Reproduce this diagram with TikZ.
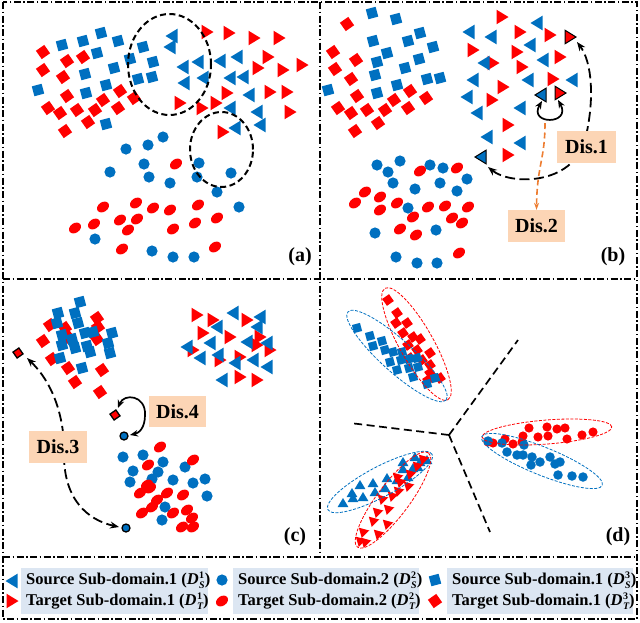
\documentclass[tikz,border=0pt]{standalone}
\usepackage{fontspec}
\setmainfont{Liberation Serif}
\usetikzlibrary{arrows.meta}
\definecolor{myblue}{RGB}{0,112,192}
\definecolor{myred}{RGB}{255,0,0}
\definecolor{peach}{RGB}{252,213,181}
\definecolor{legfill}{RGB}{220,230,242}
\definecolor{myorange}{RGB}{237,125,49}
\newcommand\Dsym[2]{\textit{D}\kern0.5pt\rlap{\raisebox{6pt}{\fontsize{10}{10}\selectfont #2}}\raisebox{-4pt}{\fontsize{10}{10}\selectfont\itshape #1}}
\tikzset{
  pics/bl/.style={code={\fill[myblue] (-6.5,0) -- (5.5,7.3) -- (5.5,-7.3) -- cycle;}},
  pics/rr/.style={code={\fill[myred] (6.5,0) -- (-5.5,7.3) -- (-5.5,-7.3) -- cycle;}},
  pics/blo/.style={code={\filldraw[fill=myblue,draw=black,line width=1pt] (-6,0) -- (5,6.8) -- (5,-6.8) -- cycle;}},
  pics/rro/.style={code={\filldraw[fill=myred,draw=black,line width=1pt] (6,0) -- (-5,6.8) -- (-5,-6.8) -- cycle;}},
  pics/bup/.style={code={\fill[myblue] (0,5.5) -- (-6,-4.5) -- (6,-4.5) -- cycle;}},
  pics/rdn/.style={code={\fill[myred,rotate=-15] (0,-5.5) -- (-6,4.5) -- (6,4.5) -- cycle;}},
  pics/bsq/.style={code={\fill[myblue,rotate=15] (-5.1,-5.1) rectangle (5.1,5.1);}},
  pics/rsq/.style={code={\fill[myred,rotate=35] (-5.1,-5.1) rectangle (5.1,5.1);}},
  pics/rsqo/.style={code={\filldraw[fill=myred,draw=black,line width=1.3pt,rotate=35] (-3.6,-3.6) rectangle (3.6,3.6);}},
  pics/bc/.style={code={\fill[myblue] (0,0) circle (5.6);}},
  pics/bco/.style={code={\filldraw[fill=myblue,draw=black,line width=1.3pt] (0,0) circle (4);}},
  pics/rc/.style={code={\fill[myred,rotate=35] (0,0) ellipse [x radius=6.5,y radius=4.8];}},
  pics/rcd/.style={code={\fill[myred] (0,0) circle (5.4);}},
  frame/.style={line width=1.3pt,dash pattern=on 7pt off 2.5pt on 1.5pt off 2.5pt},
  dasharr/.style={line width=1.8pt,dash pattern=on 10pt off 4.5pt,{Stealth[length=9pt,width=7pt]}-{Stealth[length=9pt,width=7pt]}},
  solarr/.style={line width=1.7pt,{Stealth[length=8pt,width=6.5pt]}-{Stealth[length=8pt,width=6.5pt]}},
  disbox/.style={fill=peach,inner sep=0pt,font=\fontsize{20}{22}\selectfont\bfseries},
  plabel/.style={font=\fontsize{20}{22}\selectfont\bfseries},
  legtext/.style={anchor=west,inner sep=0pt,align=left,font=\fontsize{16.5}{21}\selectfont\bfseries},
  legbox/.style={fill=legfill,inner sep=0pt},
  bigell/.style={line width=2pt,dash pattern=on 6pt off 3.5pt},
  redell/.style={draw=myred,line width=0.8pt,dash pattern=on 3pt off 1.5pt},
  blueell/.style={draw=myblue,line width=0.8pt,dash pattern=on 3pt off 1.5pt},
  sep/.style={line width=1.7pt,dash pattern=on 8pt off 4.5pt}
}
\begin{document}
\begin{tikzpicture}[x=1pt,y=1pt]
\useasboundingbox (0,0) rectangle (640,-622);
% ---------- frames
\draw[frame] (3,-2) rectangle (637,-619);
\draw[frame] (320,-2) -- (320,-557);
\draw[frame] (3,-279) -- (637,-279);
\draw[frame] (3,-557) -- (637,-557);

% ================= panel (a)
\foreach \x/\y in {43/52,67/61,83/57,43/70,63/77,67/96,48/108,60/113,77/110,88/122,95/110,103/100,118/108,120/91,134/98,65/131}
  \pic at (\x,-\y) {rsq};
\foreach \x/\y in {62/45,83/41,101/33,118/41,97/53,114/68,85/74,143/47,130/59,153/62,138/79,152/77,106/85,86/93,38/90,106/124}
  \pic at (\x,-\y) {bsq};
\foreach \x/\y in {207/32,229/33,254/38,279/38,268/57,302/65,258/68,283/70,227/93,270/92,287/92,180/103,202/108,216/103,290/112,223/132}
  \pic at (\x,-\y) {rr};
\foreach \x/\y in {172/36,170/47,183/67,198/62,184/83,203/78,220/61,237/57,230/78,243/77,249/95,230/108,257/112,260/125,235/128}
  \pic at (\x,-\y) {bl};
\foreach \x/\y in {126/149,148/145,163/137,144/164,110/172,149/177,170/183,199/163,197/177,231/173,217/192,239/207,95/239,152/251,173/257,194/257}
  \pic at (\x,-\y) {bc};
\foreach \x/\y in {176/164,103/207,136/203,153/208,170/210,198/205,217/218,75/228,94/224,120/220,137/219,128/230,173/229,195/223,122/249,215/247}
  \pic at (\x,-\y) {rc};
\draw[bigell] (169.5,-64.5) ellipse [x radius=41.5,y radius=50.5];
\draw[bigell] (221.5,-149.5) ellipse [x radius=31.5,y radius=37.5];
\node[plabel] (la) at (300,-257) {(a)};

% ================= panel (b)
\foreach \x/\y in {347/24,333/52,356/60,335/69,351/79,357/96,338/108,351/113,367/110,378/123,385/110,394/100,408/108,410/91,426/98,355/131}
  \pic at (\x,-\y) {rsq};
\foreach \x/\y in {372/13,396/19,373/41,408/41,420/33,433/47,387/53,377/62,419/59,405/68,375/75,427/79,440/78,397/85,328/90,377/93}
  \pic at (\x,-\y) {bsq};
\foreach \x/\y in {502/17,520/32,550/35,473/50,517/52,560/57,493/63,522/67,503/87,553/79,492/100,508/125,508/155}
  \pic at (\x,-\y) {rr};
\foreach \x/\y in {469/32,491/37,537/23,530/45,484/63,543/60,473/80,528/80,572/80,467/97,477/113,520/108,487/137,520/143}
  \pic at (\x,-\y) {bl};
\foreach \x/\y in {377/165,400/161,388/172,430/165,443/168,393/183,415/189,440/183,467/179,457/191,408/208,375/233,436/230,396/257,417/263,437/263}
  \pic at (\x,-\y) {bc};
\foreach \x/\y in {420/171,457/168,365/192,380/197,355/203,397/203,380/210,428/207,445/206,468/207,413/217,452/218,462/223,400/229,416/235,459/253}
  \pic at (\x,-\y) {rc};
\pic at (541,-95) {blo};
\pic at (481,-157) {blo};
\pic at (570,-37) {rro};
\pic at (560,-93) {rro};
\coordinate (bA) at (488,-167);
\coordinate (rA) at (577,-42);
\coordinate (bB) at (542,-101);
\coordinate (rB) at (558,-100);
\draw[dasharr] (bA) .. controls (510,-185) and (572,-186) .. (585,-140) .. controls (595,-100) and (592,-62) .. (rA);
\draw[solarr] (bB) .. controls (528,-125) and (572,-125) .. (rB);
\node[disbox,minimum width=59pt,minimum height=32pt] (dis1) at (586.5,-147) {Dis.1};
\node[disbox,minimum width=57pt,minimum height=32pt] (dis2) at (536.5,-226) {Dis.2};
\coordinate (oS) at (545,-123);
\draw[myorange,line width=1.6pt,dash pattern=on 6pt off 3.5pt,-{Stealth[length=7pt,width=5pt]}] (oS) .. controls (545,-160) and (537,-165) .. (dis2.north);
\node[plabel] (lb) at (613,-257) {(b)};

% ================= panel (c)
\foreach \x/\y in {50/325,43/341,65/328,97/318,98/327,68/337,97/339,52/359,68/368,75/382,102/370,100/392}
  \pic at (\x,-\y) {rsq};
\foreach \x/\y in {58/313,80/302,75/313,57/323,78/323,62/335,85/333,72/339,93/332,112/333,62/345,75/348,87/346,90/352,108/343,110/353,60/358,82/368}
  \pic at (\x,-\y) {bsq};
\foreach \x/\y in {197/315,213/320,247/320,203/333,230/337,260/337,193/350,257/345,270/350,220/360,240/357,240/377,257/380}
  \pic at (\x,-\y) {rr};
\foreach \x/\y in {233/313,260/317,217/327,257/327,247/342,187/347,210/343,267/343,200/358,218/355,235/363,253/360,267/367,222/380}
  \pic at (\x,-\y) {bl};
\foreach \x/\y in {123/457,143/455,163/462,185/467,133/471,152/479,173/480,193/483,205/479,130/482,165/507,162/520,207/496,158/472}
  \pic at (\x,-\y) {bc};
\foreach \x/\y in {160/447,148/465,193/460,140/493,150/488,167/493,183/495,157/500,152/507,142/513,173/513,187/510,192/518,182/527,193/527,147/485}
  \pic at (\x,-\y) {rc};
\pic at (18,-353) {rsqo};
\pic at (115,-415) {rsqo};
\pic at (124,-436) {bco};
\pic at (126,-528) {bco};
\coordinate (cA) at (27,-358);
\coordinate (cB) at (119,-527);
\coordinate (cC) at (118,-408);
\coordinate (cD) at (130,-435);
\draw[dasharr] (cA) .. controls (58,-388) and (65,-428) .. (64,-455) .. controls (64,-500) and (88,-520) .. (cB);
\draw[solarr] (cC) .. controls (124,-393) and (146,-395) .. (145,-415) .. controls (145,-428) and (139,-433) .. (cD);
\node[disbox,minimum width=58pt,minimum height=32pt] (dis3) at (58,-447) {Dis.3};
\node[disbox,minimum width=57pt,minimum height=31pt] (dis4) at (177.5,-411.5) {Dis.4};
\node[plabel] (lc) at (295,-537) {(c)};

% ================= panel (d)
\coordinate (ctr) at (449,-435);
\coordinate (e1) at (350,-423);
\coordinate (e2) at (518,-340);
\coordinate (e3) at (490,-532);
\draw[sep] (ctr) -- (e1);
\draw[sep] (ctr) -- (e2);
\draw[sep] (ctr) -- (e3);
\foreach \x/\y in {388/300,397/313,396/323,407/323,403/333,413/337,420/339,408/345,417/350,430/353,410/358,422/360,430/365,430/373,428/380,440/378}
  \pic[scale=0.82] at (\x,-\y) {rsq};
\foreach \x/\y in {357/328,370/336,382/341,373/346,385/350,393/352,402/352,390/362,401/360,409/359,397/370,409/368,418/367,413/377,427/384,435/378,417/358}
  \pic[scale=0.82] at (\x,-\y) {bsq};
\foreach \x/\y in {488/442,505/439,513/444,523/436,529/428,538/437,547/427,548/436,557/429,565/428,567/439,582/435,593/432,522/442,493/443}
  \pic[scale=0.85] at (\x,-\y) {rcd};
\foreach \x/\y in {488/441,502/443,524/445,507/452,517/455,523/455,532/457,540/462,531/465,550/457,560/462,555/464,558/475,572/476,583/477}
  \pic[scale=0.85] at (\x,-\y) {bc};
\foreach \x/\y in {343/503,353/498,363/497,352/493,360/485,373/483,375/492,385/488,387/478,397/480,403/469,413/468,420/462,427/460,403/462,415/457,408/477,418/467}
  \pic[scale=0.9] at (\x,-\y) {bup};
\foreach \x/\y in {423/460,417/467,410/475,400/483,408/487,398/492,392/497,388/510,382/500,377/513,387/525,373/522,363/533,378/535,365/543,360/542,397/478}
  \pic[scale=0.9] at (\x,-\y) {rdn};
\draw[redell,rotate around={-60.6:(416.5,-344)}] (416.5,-344) ellipse [x radius=64,y radius=17];
\draw[blueell,rotate around={-42:(397,-356)}] (397,-356) ellipse [x radius=66,y radius=16];
\draw[redell,rotate around={4.5:(547,-432)}] (547,-432) ellipse [x radius=65,y radius=12];
\draw[blueell,rotate around={-22:(542,-461)}] (542,-461) ellipse [x radius=65,y radius=14];
\draw[blueell,rotate around={28:(380,-482)}] (380,-482) ellipse [x radius=59,y radius=15];
\draw[redell,rotate around={53:(393,-500)}] (393,-500) ellipse [x radius=59,y radius=16];
\node[plabel] (ld) at (618,-537) {(d)};

% ================= legend
\node[legbox,minimum width=187pt,minimum height=46pt] (lb1) at (114.5,-591) {};
\node[legbox,minimum width=186pt,minimum height=46pt] (lb2) at (326,-591) {};
\node[legbox,minimum width=186pt,minimum height=46pt] (lb3) at (540,-591) {};
\pic at (12,-581) {bl};
\pic at (12,-601) {rr};
\pic at (222,-580) {bc};
\pic at (222,-601) {rc};
\pic at (435,-580) {bsq};
\pic at (435,-601) {rsq};
\node[legtext] (t1) at (26,-591) {Source Sub-domain.1 (\Dsym{S}{1})\\Target Sub-domain.1 (\Dsym{T}{1})};
\node[legtext] (t2) at (238,-591) {Source Sub-domain.2 (\Dsym{S}{2})\\Target Sub-domain.2 (\Dsym{T}{2})};
\node[legtext] (t3) at (452,-591) {Source Sub-domain.1 (\Dsym{S}{3})\\Target Sub-domain.1 (\Dsym{T}{3})};
\end{tikzpicture}
\end{document}
